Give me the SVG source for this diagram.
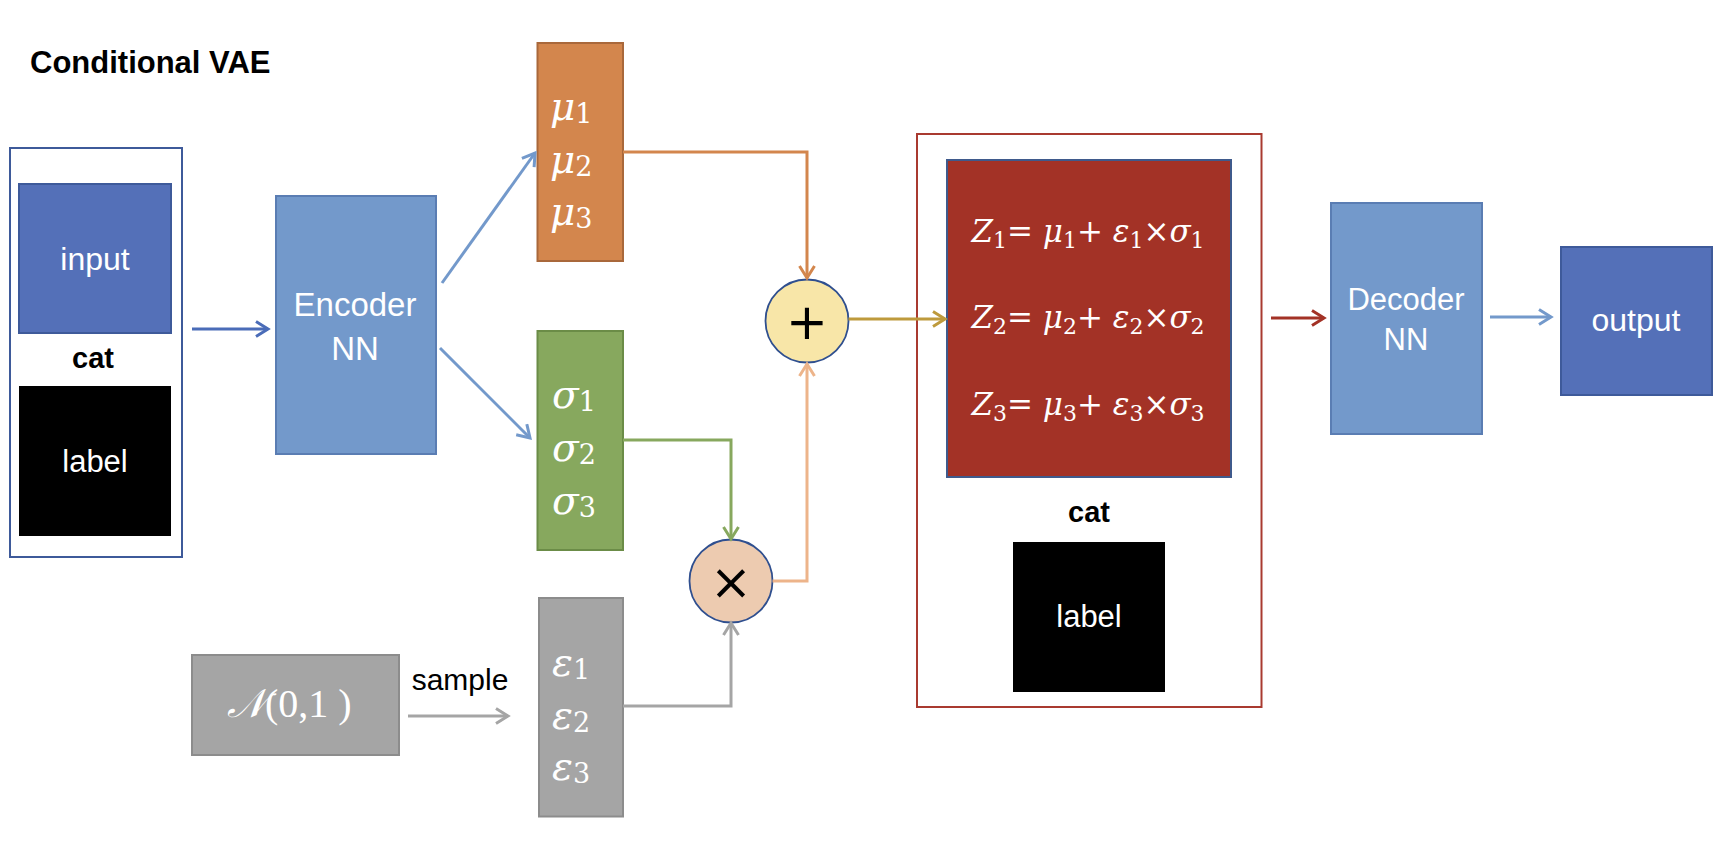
<svg xmlns="http://www.w3.org/2000/svg" width="1732" height="848" viewBox="0 0 1732 848">
<style>
.sans{font-family:"Liberation Sans","DejaVu Sans",sans-serif;}
.w{fill:#ffffff;}
.b{fill:#000000;}
.bold{font-weight:bold;}
.math{font-family:"Liberation Serif","DejaVu Serif",serif;fill:#ffffff;}
.dmath{font-family:"DejaVu Serif","Liberation Serif",serif;fill:#ffffff;}
.it{font-style:italic;}
.conn{fill:none;stroke-width:3;}
</style>
<defs>
<marker id="aDark" markerUnits="userSpaceOnUse" markerWidth="20" markerHeight="20" refX="13" refY="9" orient="auto"><path d="M1,1.5 L13,9 L1,16.5" fill="none" stroke="#4A6CB8" stroke-width="3"/></marker>
<marker id="aLight" markerUnits="userSpaceOnUse" markerWidth="20" markerHeight="20" refX="13" refY="9" orient="auto"><path d="M1,1.5 L13,9 L1,16.5" fill="none" stroke="#7399CB" stroke-width="3"/></marker>
<marker id="aOrange" markerUnits="userSpaceOnUse" markerWidth="20" markerHeight="20" refX="13" refY="9" orient="auto"><path d="M1,1.5 L13,9 L1,16.5" fill="none" stroke="#D3864D" stroke-width="3"/></marker>
<marker id="aGreen" markerUnits="userSpaceOnUse" markerWidth="20" markerHeight="20" refX="13" refY="9" orient="auto"><path d="M1,1.5 L13,9 L1,16.5" fill="none" stroke="#87A85E" stroke-width="3"/></marker>
<marker id="aGray" markerUnits="userSpaceOnUse" markerWidth="20" markerHeight="20" refX="13" refY="9" orient="auto"><path d="M1,1.5 L13,9 L1,16.5" fill="none" stroke="#A5A5A5" stroke-width="3"/></marker>
<marker id="aPeach" markerUnits="userSpaceOnUse" markerWidth="20" markerHeight="20" refX="13" refY="9" orient="auto"><path d="M1,1.5 L13,9 L1,16.5" fill="none" stroke="#EDB48A" stroke-width="3"/></marker>
<marker id="aGold" markerUnits="userSpaceOnUse" markerWidth="20" markerHeight="20" refX="13" refY="9" orient="auto"><path d="M1,1.5 L13,9 L1,16.5" fill="none" stroke="#BE9A3C" stroke-width="3"/></marker>
<marker id="aRed" markerUnits="userSpaceOnUse" markerWidth="20" markerHeight="20" refX="13" refY="9" orient="auto"><path d="M1,1.5 L13,9 L1,16.5" fill="none" stroke="#A33226" stroke-width="3"/></marker>
</defs>
<rect x="0" y="0" width="1732" height="848" fill="#ffffff"/>

<g id="title"><text x="30" y="73" class="sans bold b" font-size="31">Conditional VAE</text></g>

<g id="input-group">
<rect x="10" y="148" width="172" height="409" fill="#ffffff" stroke="#3E5A9A" stroke-width="2"/>
</g>
<g id="input">
<rect x="19" y="184" width="152" height="149" fill="#5470B8" stroke="#3E5A9A" stroke-width="2"/>
<text x="95" y="270" class="sans w" font-size="32" text-anchor="middle">input</text>
</g>
<g id="cat-left"><text x="93" y="368" class="sans bold b" font-size="29" text-anchor="middle">cat</text></g>
<g id="label-left">
<rect x="19" y="386" width="152" height="150" fill="#000000"/>
<text x="95" y="472" class="sans w" font-size="31" text-anchor="middle">label</text>
</g>

<g id="encoder">
<rect x="276" y="196" width="160" height="258" fill="#7399CB" stroke="#5A7DB3" stroke-width="2"/>
<text x="355" y="316" class="sans w" font-size="33" text-anchor="middle">Encoder</text>
<text x="355" y="360" class="sans w" font-size="33" text-anchor="middle">NN</text>
</g>

<g id="mu">
<rect x="537.5" y="43" width="85.5" height="218" fill="#D3864D" stroke="#A9683B" stroke-width="2"/>
<text x="550" y="120" class="dmath" font-size="39"><tspan class="it">μ</tspan><tspan font-size="27" dy="3">1</tspan></text>
<text x="550" y="172.5" class="dmath" font-size="39"><tspan class="it">μ</tspan><tspan font-size="27" dy="3">2</tspan></text>
<text x="550" y="225" class="dmath" font-size="39"><tspan class="it">μ</tspan><tspan font-size="27" dy="3">3</tspan></text>
</g>

<g id="sigma">
<rect x="537.5" y="331" width="85.5" height="219" fill="#87A85E" stroke="#6B8C47" stroke-width="2"/>
<text x="552" y="408" class="dmath" font-size="39"><tspan class="it">σ</tspan><tspan font-size="27" dy="3">1</tspan></text>
<text x="552" y="461" class="dmath" font-size="39"><tspan class="it">σ</tspan><tspan font-size="27" dy="3">2</tspan></text>
<text x="552" y="514" class="dmath" font-size="39"><tspan class="it">σ</tspan><tspan font-size="27" dy="3">3</tspan></text>
</g>

<g id="epsilon">
<rect x="539" y="598" width="84" height="218.5" fill="#A5A5A5" stroke="#8C8C8C" stroke-width="2"/>
<text x="552" y="676" class="dmath" font-size="39"><tspan class="it">ε</tspan><tspan font-size="27" dy="3">1</tspan></text>
<text x="552" y="729" class="dmath" font-size="39"><tspan class="it">ε</tspan><tspan font-size="27" dy="3">2</tspan></text>
<text x="552" y="780" class="dmath" font-size="39"><tspan class="it">ε</tspan><tspan font-size="27" dy="3">3</tspan></text>
</g>

<g id="normal">
<rect x="192" y="655" width="207" height="100" fill="#A5A5A5" stroke="#8C8C8C" stroke-width="2"/>
<text x="227" y="717" class="math" font-size="40"><tspan class="it">𝒩</tspan>(0,1 )</text>
</g>
<g id="sample-label"><text x="460" y="690" class="sans b" font-size="30" text-anchor="middle">sample</text></g>

<g id="plus">
<circle cx="807" cy="321" r="41.5" fill="#F8E6A8" stroke="#2F4F8F" stroke-width="1.8"/>
<text x="807" y="339" font-family="DejaVu Sans, sans-serif" font-size="50" text-anchor="middle" class="b">+</text>
</g>
<g id="times">
<circle cx="731" cy="581" r="41.5" fill="#EDCBB0" stroke="#2F4F8F" stroke-width="1.8"/>
<text x="731" y="599" font-family="DejaVu Sans, sans-serif" font-size="50" text-anchor="middle" class="b">×</text>
</g>

<g id="latent-group">
<rect x="917" y="134" width="344.5" height="573" fill="#ffffff" stroke="#A93A30" stroke-width="2"/>
</g>
<g id="z">
<rect x="947" y="160" width="284" height="317" fill="#A33226" stroke="#3F5A8C" stroke-width="2"/>
<text x="1088" y="242" class="dmath" font-size="31" text-anchor="middle"><tspan class="it">Z</tspan><tspan font-size="22" dy="6">1</tspan><tspan dy="-6">= </tspan><tspan class="it">μ</tspan><tspan font-size="22" dy="6">1</tspan><tspan dy="-6">+ </tspan><tspan class="it">ε</tspan><tspan font-size="22" dy="6">1</tspan><tspan dy="-6">×</tspan><tspan class="it">σ</tspan><tspan font-size="22" dy="6">1</tspan></text>
<text x="1088" y="328" class="dmath" font-size="31" text-anchor="middle"><tspan class="it">Z</tspan><tspan font-size="22" dy="6">2</tspan><tspan dy="-6">= </tspan><tspan class="it">μ</tspan><tspan font-size="22" dy="6">2</tspan><tspan dy="-6">+ </tspan><tspan class="it">ε</tspan><tspan font-size="22" dy="6">2</tspan><tspan dy="-6">×</tspan><tspan class="it">σ</tspan><tspan font-size="22" dy="6">2</tspan></text>
<text x="1088" y="415" class="dmath" font-size="31" text-anchor="middle"><tspan class="it">Z</tspan><tspan font-size="22" dy="6">3</tspan><tspan dy="-6">= </tspan><tspan class="it">μ</tspan><tspan font-size="22" dy="6">3</tspan><tspan dy="-6">+ </tspan><tspan class="it">ε</tspan><tspan font-size="22" dy="6">3</tspan><tspan dy="-6">×</tspan><tspan class="it">σ</tspan><tspan font-size="22" dy="6">3</tspan></text>
</g>
<g id="cat-right"><text x="1089" y="522" class="sans bold b" font-size="29" text-anchor="middle">cat</text></g>
<g id="label-right">
<rect x="1013" y="542" width="152" height="150" fill="#000000"/>
<text x="1089" y="627" class="sans w" font-size="31" text-anchor="middle">label</text>
</g>

<g id="decoder">
<rect x="1331" y="203" width="151" height="231" fill="#7399CB" stroke="#5A7DB3" stroke-width="2"/>
<text x="1406" y="310" class="sans w" font-size="31" text-anchor="middle">Decoder</text>
<text x="1406" y="350" class="sans w" font-size="31" text-anchor="middle">NN</text>
</g>
<g id="output">
<rect x="1561" y="247" width="151" height="148" fill="#5470B8" stroke="#3E5A9A" stroke-width="2"/>
<text x="1636" y="331" class="sans w" font-size="32" text-anchor="middle">output</text>
</g>

<g id="connectors">
<line x1="192" y1="329" x2="268" y2="329" class="conn" stroke="#4A6CB8" marker-end="url(#aDark)"/>
<line x1="442" y1="283" x2="535" y2="153" class="conn" stroke="#7399CB" marker-end="url(#aLight)"/>
<line x1="440" y1="348" x2="530" y2="438" class="conn" stroke="#7399CB" marker-end="url(#aLight)"/>
<polyline points="623,152 807,152 807,278" class="conn" stroke="#D3864D" marker-end="url(#aOrange)"/>
<polyline points="623,440 731,440 731,539" class="conn" stroke="#87A85E" marker-end="url(#aGreen)"/>
<polyline points="623,706 731,706 731,623" class="conn" stroke="#A5A5A5" marker-end="url(#aGray)"/>
<polyline points="772.5,581 807,581 807,364" class="conn" stroke="#EDB48A" marker-end="url(#aPeach)"/>
<line x1="848.5" y1="319" x2="945" y2="319" class="conn" stroke="#BE9A3C" marker-end="url(#aGold)"/>
<line x1="1271" y1="318" x2="1324" y2="318" class="conn" stroke="#A33226" marker-end="url(#aRed)"/>
<line x1="1490" y1="317" x2="1551" y2="317" class="conn" stroke="#7399CB" marker-end="url(#aLight)"/>
<line x1="408" y1="716" x2="508" y2="716" class="conn" stroke="#A5A5A5" marker-end="url(#aGray)"/>
</g>
</svg>
